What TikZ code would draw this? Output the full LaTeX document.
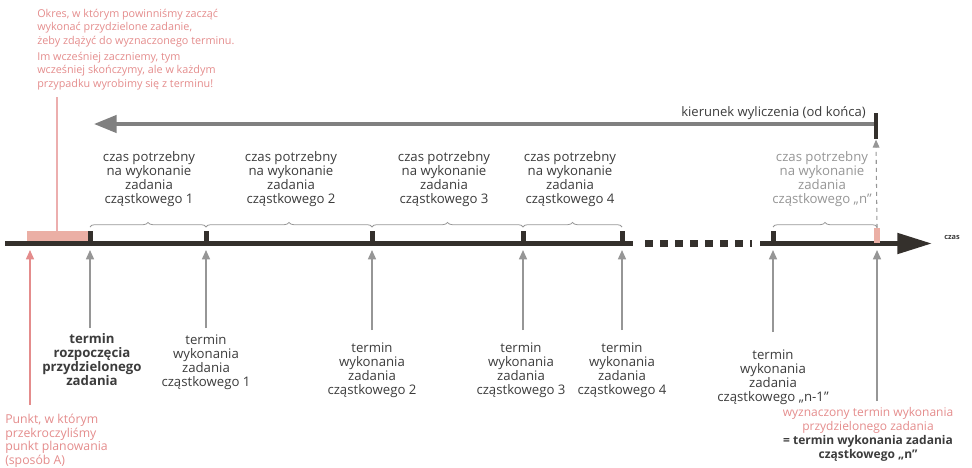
\documentclass[tikz,border=0pt]{standalone}
\usepackage{fontspec}
\setmainfont{Open Sans}
\usetikzlibrary{arrows.meta,decorations.pathreplacing,calc}
\definecolor{axisdark}{RGB}{52,48,44}
\definecolor{arrgray}{RGB}{150,150,150}
\definecolor{txtdark}{RGB}{60,60,60}
\definecolor{pinkred}{RGB}{228,140,140}
\definecolor{pinkfill}{RGB}{235,175,165}
\begin{document}
\begin{tikzpicture}[x=0.75pt,y=-0.75pt,
  tickbox/.style={fill=axisdark,minimum width=3.75pt,minimum height=9pt,inner sep=0pt,anchor=south},
  axisline/.style={draw=axisdark,line width=3.75pt},
  brc/.style={draw=arrgray,line width=0.6pt,decorate,decoration={brace,amplitude=3.5pt}},
  toplab/.style={align=center,anchor=south,text=txtdark,font=\fontsize{9.9}{10.5}\selectfont,inner sep=0pt},
  botlab/.style={align=center,anchor=north,text=txtdark,font=\fontsize{9.9}{10.5}\selectfont,inner sep=0pt},
  uparr/.style={draw=arrgray,line width=1.1pt,-{Triangle[length=7pt,width=6pt]}},
  redtxt/.style={text=pinkred,font=\fontsize{8.1}{10}\selectfont,inner sep=0pt}
]
\useasboundingbox (0,0) rectangle (972,468);
% red start region
\fill[pinkfill] (27,231) rectangle (88,242);
\draw[pinkred!70,line width=0.8pt] (57,97) -- (57,231);
% axis
\coordinate (axL) at (5,243.5);
\coordinate (axM1) at (633,243.5);
\coordinate (dA) at (645,243.5);
\coordinate (dB) at (752,243.5);
\coordinate (axM2) at (760,243.5);
\coordinate (axR) at (932,243.5);
\draw[axisline] (axL) -- (axM1);
\draw[draw=axisdark,line width=5.25pt,dash pattern=on 6pt off 5.25pt] (dA) -- (dB);
\draw[axisline,-{Triangle[length=26pt,width=15pt]}] (axM2) -- (axR);
\node[text=txtdark,font=\fontsize{5.5}{6}\bfseries\selectfont,anchor=west,inner sep=0pt] (czas) at (944,237) {czas};
% ticks
\node[tickbox] (t0) at (90,243) {};
\node[tickbox] (t1) at (206,243) {};
\node[tickbox] (t2) at (372,243) {};
\node[tickbox] (t3) at (523,243) {};
\node[tickbox] (t4) at (622,243) {};
\node[tickbox] (t5) at (773,243) {};
\node[tickbox,fill=pinkfill,minimum height=11pt,minimum width=5pt] (tn) at (877,243) {};
% braces
\draw[brc] (t0 |- 0,227) -- (t1 |- 0,227);
\draw[brc] (t1 |- 0,227) -- (t2 |- 0,227);
\draw[brc] (t2 |- 0,227) -- (t3 |- 0,227);
\draw[brc] (t3 |- 0,227) -- (t4 |- 0,227);
\draw[brc] (t5 |- 0,227) -- (tn |- 0,227);
% brace labels
\node[toplab] (b1) at (149,207) {czas potrzebny\\na wykonanie\\zadania\\cząstkowego 1};
\node[toplab] (b2) at (291,207) {czas potrzebny\\na wykonanie\\zadania\\cząstkowego 2};
\node[toplab] (b3) at (444,207) {czas potrzebny\\na wykonanie\\zadania\\cząstkowego 3};
\node[toplab] (b4) at (570,207) {czas potrzebny\\na wykonanie\\zadania\\cząstkowego 4};
\node[toplab,text=arrgray] (bn) at (822,207) {czas potrzebny\\na wykonanie\\zadania\\cząstkowego „n”};
% direction arrow
\node[fill=axisdark,minimum width=3pt,minimum height=20pt,inner sep=0pt] (kbar) at (876,126) {};
\coordinate (kend) at (94,124);
\draw[draw=arrgray!85!black,line width=2.6pt,-{Triangle[length=17pt,width=13pt]}] (kbar.west |- 0,124) -- (kend);
\node[text=txtdark,font=\fontsize{9.8}{10}\selectfont,anchor=south east,inner sep=0pt] (klab) at (866,120) {kierunek wyliczenia (od końca)};
\draw[draw=arrgray,line width=0.8pt,dashed,-{Triangle[length=6pt,width=5pt]}] (tn.north) -- (kbar.south);
% lower labels
\node[botlab,font=\fontsize{9.9}{10.5}\bfseries\selectfont] (l0) at (92,333) {termin\\rozpoczęcia\\przydzielonego\\zadania};
\node[botlab] (l1) at (206,335) {termin\\wykonania\\zadania\\cząstkowego 1};
\node[botlab] (l2) at (372,343) {termin\\wykonania\\zadania\\cząstkowego 2};
\node[botlab] (l3) at (521,343) {termin\\wykonania\\zadania\\cząstkowego 3};
\node[botlab] (l4) at (622,343) {termin\\wykonania\\zadania\\cząstkowego 4};
\node[botlab] (l5) at (773,350) {termin\\wykonania\\zadania\\cząstkowego „n-1”};
% up arrows
\draw[uparr] (t0 |- 0,328) -- (t0.south |- 0,250);
\draw[uparr] (t1 |- 0,328) -- (t1.south |- 0,250);
\draw[uparr] (t2 |- 0,330) -- (t2.south |- 0,250);
\draw[uparr] (t3 |- 0,330) -- (t3.south |- 0,250);
\draw[uparr] (t4 |- 0,330) -- (t4.south |- 0,250);
\draw[uparr] (t5 |- 0,332) -- (t5.south |- 0,250);
% final deadline
\node[align=center,anchor=north,inner sep=0pt,font=\fontsize{9}{10.5}\selectfont] (ln) at (868,407)
  {\textcolor{pinkred}{wyznaczony termin wykonania}\\\textcolor{pinkred}{przydzielonego zadania}\\\textcolor{txtdark}{\bfseries = termin wykonania zadania}\\\textcolor{txtdark}{\bfseries cząstkowego „n”}};
\draw[uparr] (tn |- 0,401) -- (tn.south |- 0,250);
% start point (red)
\node[redtxt,font=\fontsize{9.2}{10.2}\selectfont,align=left,anchor=north west] (lr) at (5,414) {Punkt, w którym\\przekroczyliśmy\\punkt planowania\\(sposób A)};
\draw[draw=pinkred,line width=1.1pt,-{Triangle[length=7pt,width=6pt]}] (30,405) -- (30,250);
% top red note
\node[redtxt,align=left,anchor=north west] (note1) at (37,9) {Okres, w którym powinniśmy zacząć\\wykonać przydzielone zadanie,\\żeby zdążyć do wyznaczonego terminu.};
\node[redtxt,align=left,anchor=north west] (note2) at (37,52) {Im wcześniej zaczniemy, tym\\wcześniej skończymy, ale w każdym\\przypadku wyrobimy się z terminu!};
\end{tikzpicture}
\end{document}
